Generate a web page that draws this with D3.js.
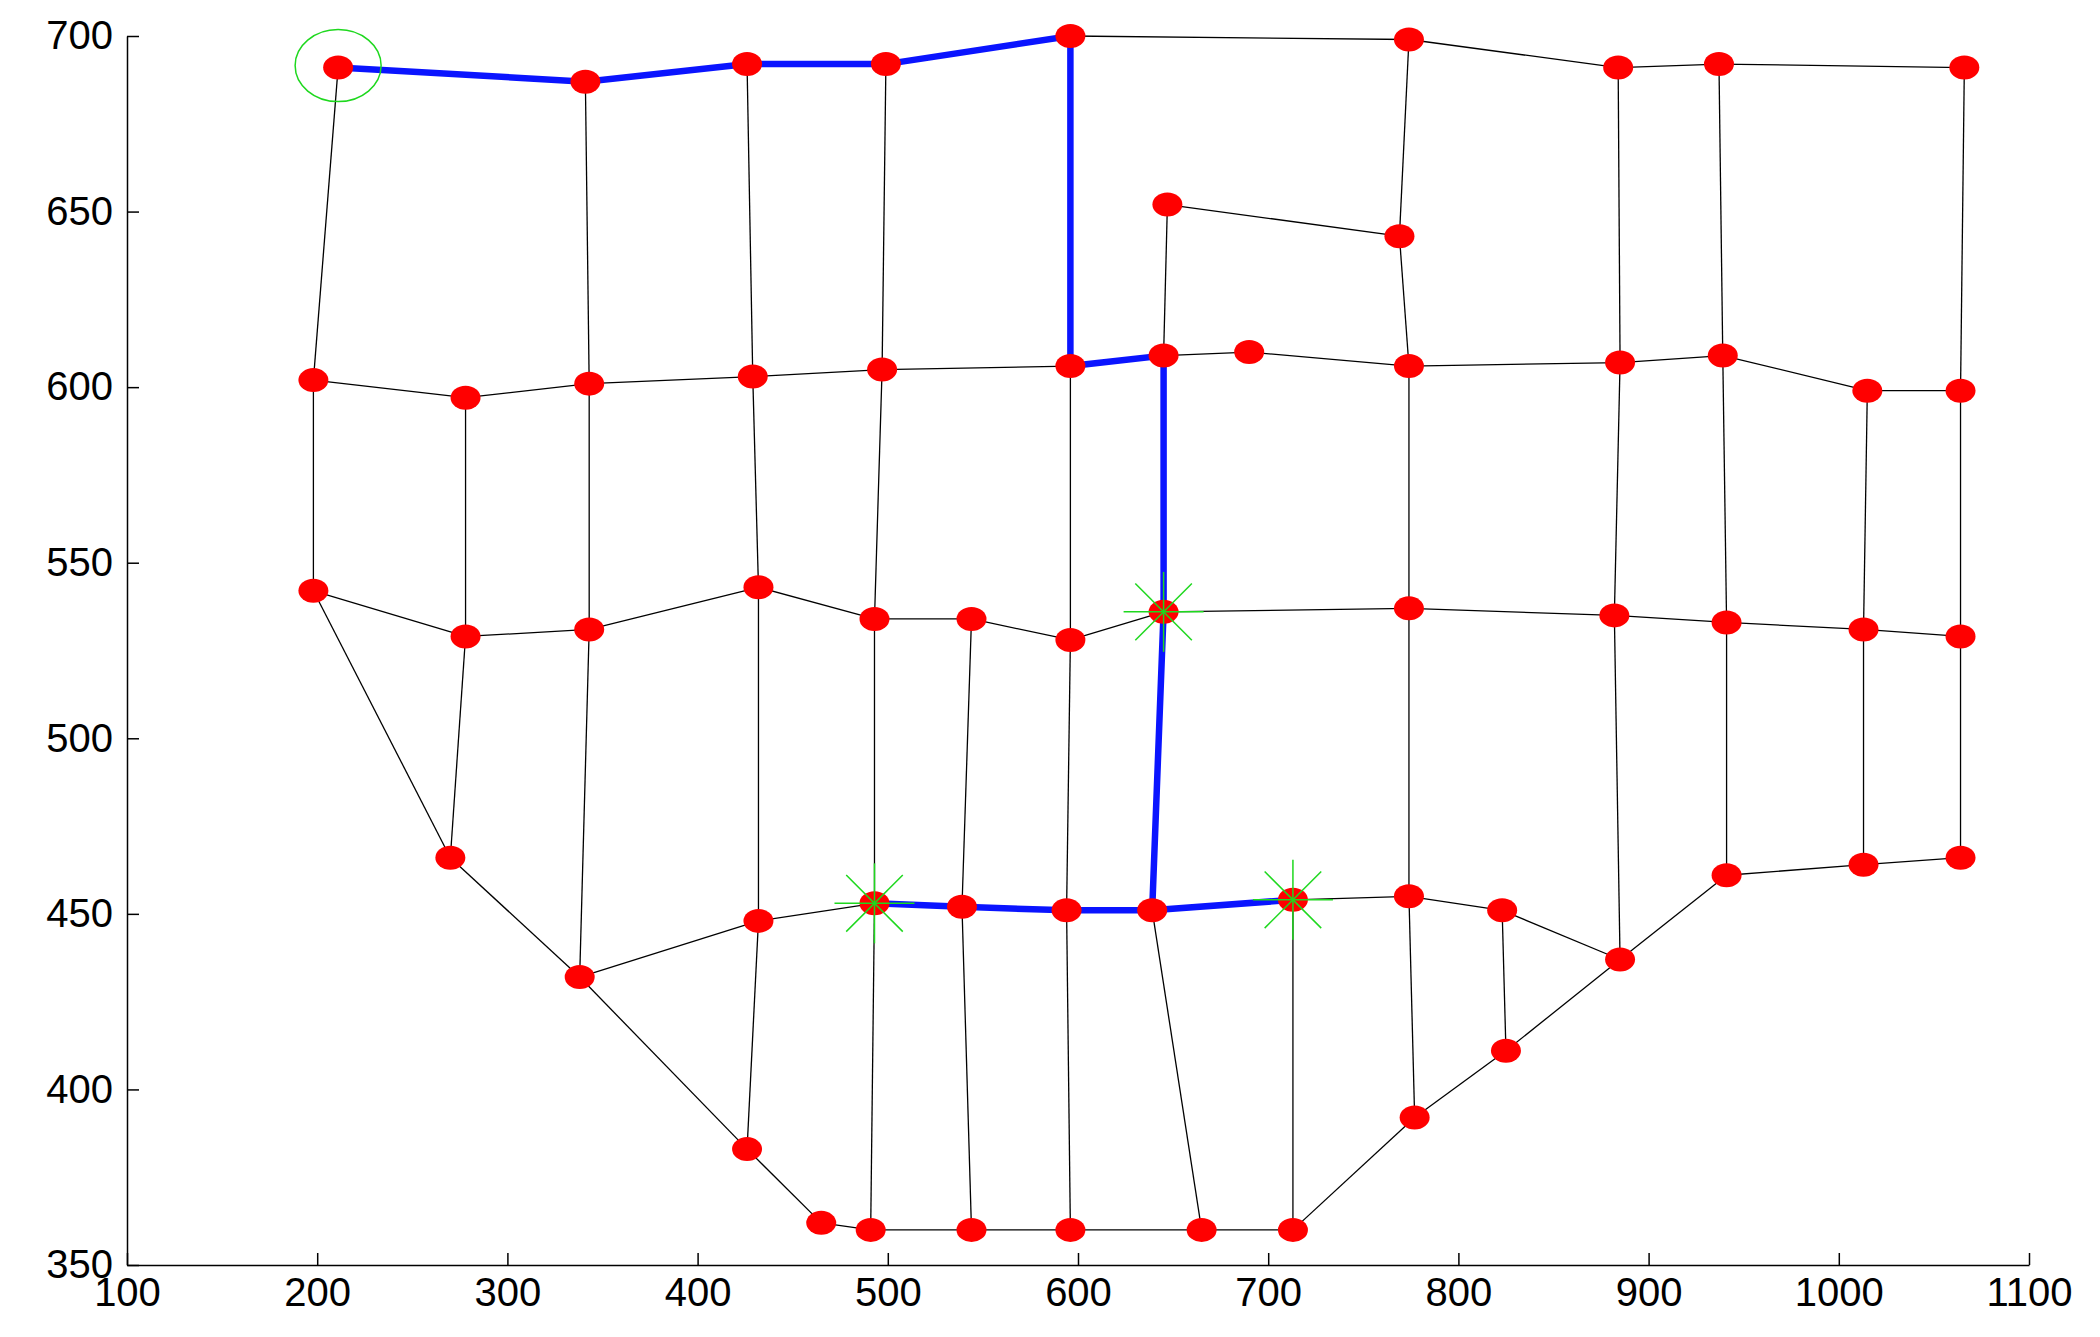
<!DOCTYPE html>
<html><head><meta charset="utf-8">
<script src="https://cdn.jsdelivr.net/npm/d3@7"></script>
<style>body{margin:0;background:#fff}</style></head>
<body><svg width="2100" height="1337"></svg>
<script>
const nodeIds = ['A1','A2','A3','A4','A5','A6','A7','A8','A9','B1','B2',
  'C1','C2','C3','C4','C5','C6','C7','C8','C9','C10','C11','C12','C13',
  'D1','D2','D3','D4','D5','D6','D7','D8','D9','D10','D11','D12','D13',
  'E1','E2','E3','E4','F1','F2','F3','F4','F5','F6','F7','F8','F9','F10',
  'G1','G2','G3','H1','H2','H3','H4','H5','H6'];
const nodeX = [211,341,426,499,596,774,884,937,1066,647,769,
  198,278,343,429,497,596,645,690,774,885,939,1015,1064,
  198,278,343,432,493,544,596,645,774,882,941,1013,1064,
  270,941,1013,1064,338,432,493,539,594,639,713,774,823,885,
  825,777,426,465,491,544,596,665,713];
const nodeY = [691,687,692,692,700,699,691,692,691,652,643,
  602,597,601,603,605,606,609,610,606,607,609,599,599,
  542,529,531,543,534,534,528,536,537,535,533,531,529,
  466,461,464,466,432,448,453,452,451,451,454,455,451,437,
  411,392,383,362,360,360,360,360,360];
const edges = [
  ['A1','A2'],['A2','A3'],['A3','A4'],['A4','A5'],['A5','A6'],['A6','A7'],['A7','A8'],['A8','A9'],
  ['A1','C1'],['A2','C3'],['A3','C4'],['A4','C5'],['A5','C6'],['A6','B2'],['B2','C9'],['A7','C10'],['A8','C11'],['A9','C13'],
  ['B1','B2'],['B1','C7'],
  ['C1','C2'],['C2','C3'],['C3','C4'],['C4','C5'],['C5','C6'],['C6','C7'],['C7','C8'],['C8','C9'],['C9','C10'],['C10','C11'],['C11','C12'],['C12','C13'],
  ['C1','D1'],['C2','D2'],['C3','D3'],['C4','D4'],['C5','D5'],['C6','D7'],['C7','D8'],['C9','D9'],['C10','D10'],['C11','D11'],['C12','D12'],['C13','D13'],
  ['D1','D2'],['D2','D3'],['D3','D4'],['D4','D5'],['D5','D6'],['D6','D7'],['D7','D8'],['D8','D9'],['D9','D10'],['D10','D11'],['D11','D12'],['D12','D13'],
  ['D1','E1'],['D2','E1'],['E1','F1'],['D3','F1'],['F1','F2'],['D4','F2'],['F2','F3'],['D5','F3'],['F3','F4'],['D6','F4'],['F4','H3'],
  ['D7','F5'],['F5','H4'],['D8','F6'],['F6','H5'],['F3','H2'],['F2','G3'],['F1','G3'],['G3','H1'],['H1','H2'],['H2','H3'],['H3','H4'],['H4','H5'],['H5','H6'],
  ['H6','G2'],['G2','G1'],['G1','F10'],['F10','E2'],['E2','E3'],['E3','E4'],['E4','D13'],['E3','D12'],['E2','D11'],['F10','D10'],
  ['F9','G1'],['F9','F10'],['F8','F9'],['F7','F8'],['F6','F7'],['F5','F6'],['F4','F5'],['F7','H6'],['D9','F8'],['F8','G2']];
const pathA = ['A1','A2','A3','A4','A5','C6','C7','D8','F6'];
const pathB = ['F3','F4','F5','F6','F7'];
const stars = ['F3','D8','F7'];
const start = 'A1';
const xTicks = [100,200,300,400,500,600,700,800,900,1000,1100];
const yTicks = [350,400,450,500,550,600,650,700];

const pos = {};
nodeIds.forEach((id, i) => pos[id] = [nodeX[i], nodeY[i]]);
const svg = d3.select('svg');
const x = d3.scaleLinear().domain([100,1100]).range([127,2029]);
const y = d3.scaleLinear().domain([350,700]).range([1265,36]);

svg.append('g').attr('transform','translate(0,1265)')
  .call(d3.axisBottom(x).tickValues(xTicks).tickFormat(d3.format('d')).tickSize(-12).tickPadding(12).tickSizeOuter(0))
  .call(g => g.selectAll('text').attr('dy','0.72em'));
svg.append('g').attr('transform','translate(127,0)')
  .call(d3.axisLeft(y).tickValues(yTicks).tickFormat(d3.format('d')).tickSize(-12).tickPadding(14).tickSizeOuter(0));
svg.selectAll('.tick text').style('font-family','Liberation Sans, Arial').style('font-size','40px').attr('fill','#000');
svg.selectAll('.domain, .tick line').attr('stroke','#000').attr('stroke-width',1.5);

svg.append('g').selectAll('line').data(edges).enter().append('line')
  .attr('x1', d => x(pos[d[0]][0])).attr('y1', d => y(pos[d[0]][1]))
  .attr('x2', d => x(pos[d[1]][0])).attr('y2', d => y(pos[d[1]][1]))
  .attr('stroke','#000').attr('stroke-width',1.3);

const line = d3.line().x(d => x(pos[d][0])).y(d => y(pos[d][1]));
[pathA, pathB].forEach(p => svg.append('path').attr('d', line(p))
  .attr('fill','none').attr('stroke','#0a14ff').attr('stroke-width',6.5));

svg.append('g').selectAll('ellipse').data(nodeIds).enter().append('ellipse')
  .attr('cx', d => x(pos[d][0])).attr('cy', d => y(pos[d][1]))
  .attr('rx',15).attr('ry',12).attr('fill','#f00');

const sg = svg.append('g');
stars.forEach(id => {
  const cx = x(pos[id][0]), cy = y(pos[id][1]);
  [0,45,90,135].forEach(a => {
    const r = 40, t = a*Math.PI/180;
    sg.append('line').attr('x1',cx-r*Math.cos(t)).attr('y1',cy-r*Math.sin(t))
      .attr('x2',cx+r*Math.cos(t)).attr('y2',cy+r*Math.sin(t))
      .attr('stroke','#1ed81e').attr('stroke-width',1.5);
  });
});
svg.append('ellipse').attr('cx', x(pos[start][0])).attr('cy', y(pos[start][1]) - 2)
  .attr('rx',43).attr('ry',36).attr('fill','none').attr('stroke','#1ed81e').attr('stroke-width',1.5);
</script></body></html>
